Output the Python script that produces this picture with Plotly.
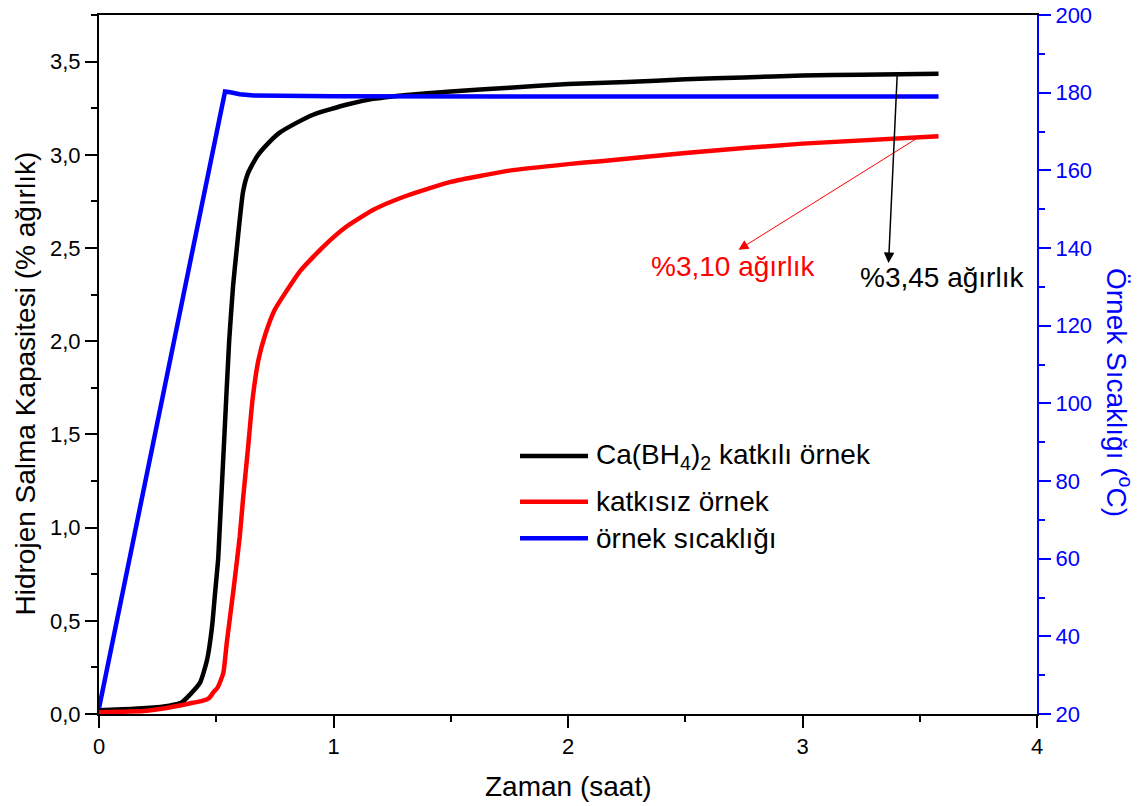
import plotly.graph_objects as go

# ---- data (time in hours) ----
t_doped = [0.00, 0.10, 0.20, 0.30, 0.35, 0.388, 0.431, 0.461, 0.482, 0.495, 0.508,
           0.515, 0.535, 0.555, 0.572, 0.587, 0.600, 0.614, 0.635, 0.673, 0.720,
           0.772, 0.840, 0.913, 1.058, 1.169, 1.30, 1.50, 1.75, 2.00, 2.25, 2.50,
           2.75, 3.00, 3.25, 3.58]
cap_doped = [0.020, 0.025, 0.032, 0.045, 0.060, 0.104, 0.168, 0.291, 0.468, 0.650, 0.830,
             1.00, 1.50, 2.00, 2.30, 2.49, 2.65, 2.80, 2.90, 2.99, 3.06,
             3.12, 3.17, 3.215, 3.27, 3.30, 3.32, 3.34, 3.36, 3.38, 3.39, 3.405,
             3.415, 3.425, 3.43, 3.435]

t_undoped = [0.00, 0.10, 0.19, 0.30, 0.40, 0.44, 0.47, 0.49, 0.505, 0.53, 0.545, 0.572,
             0.589, 0.600, 0.614, 0.635, 0.655, 0.680, 0.710, 0.750, 0.800, 0.860,
             0.957, 1.05, 1.17, 1.30, 1.50, 1.75, 2.00, 2.14, 2.50, 3.00, 3.58]
cap_undoped = [0.010, 0.012, 0.016, 0.035, 0.060, 0.070, 0.086, 0.120, 0.140, 0.220, 0.384, 0.651,
               0.830, 0.950, 1.150, 1.420, 1.690, 1.900, 2.040, 2.170, 2.270, 2.380,
               2.508, 2.610, 2.705, 2.775, 2.855, 2.915, 2.950, 2.966, 3.010, 3.060, 3.100]

t_temp = [0.00, 0.10, 0.20, 0.30, 0.40, 0.50, 0.5375, 0.56, 0.60, 0.66, 0.75, 1.00, 2.00, 3.00, 3.58]
temp = [21.5, 51.0, 80.5, 110.0, 139.5, 169.0, 180.3, 180.1, 179.6, 179.3, 179.2, 179.1, 179.0, 179.0, 179.0]

names = ["Ca(BH<sub>4</sub>)<sub>2</sub> katkılı örnek", "katkısız örnek", "örnek sıcaklığı"]
colors = ["#000000", "#ff0000", "#0000ff"]

FONT = "Arial, Liberation Sans, sans-serif"

fig = go.Figure()
fig.add_trace(go.Scatter(x=t_doped, y=cap_doped, mode="lines", name=names[0],
                         line=dict(color=colors[0], width=4.5, shape="spline", smoothing=0.5),
                         showlegend=False))
fig.add_trace(go.Scatter(x=t_undoped, y=cap_undoped, mode="lines", name=names[1],
                         line=dict(color=colors[1], width=4.5, shape="spline", smoothing=0.5),
                         showlegend=False))
fig.add_trace(go.Scatter(x=t_temp, y=temp, mode="lines", name=names[2], yaxis="y2",
                         line=dict(color=colors[2], width=4.5), showlegend=False))

W, H = 1145, 806
L, R, T, B = 99, 108, 15, 92
pw, ph = W - L - R, H - T - B

def px2paper(px, py):
    return (px - L) / pw, (H - B - py) / ph

fig.update_layout(
    width=W, height=H,
    margin=dict(l=L, r=R, t=T, b=B, autoexpand=False),
    paper_bgcolor="white", plot_bgcolor="white",
    separators=",.",
    font=dict(family=FONT, size=22, color="black"),
    xaxis=dict(range=[0, 4], dtick=1, tickformat="d", showgrid=False, zeroline=False,
               automargin=False,
               showline=True, linecolor="black", linewidth=2, mirror=True,
               ticks="outside", ticklen=12, tickwidth=2, tickcolor="black",
               minor=dict(dtick=0.5, ticks="outside", ticklen=6, tickwidth=2, tickcolor="black"),
               tickfont=dict(size=22, color="black")),
    yaxis=dict(range=[0, 3.75], dtick=0.5, tickformat=".1f", showgrid=False, zeroline=False,
               automargin=False,
               showline=True, linecolor="black", linewidth=2,
               ticks="outside", ticklen=12, tickwidth=2, tickcolor="black",
               minor=dict(dtick=0.25, ticks="outside", ticklen=6, tickwidth=2, tickcolor="black"),
               tickfont=dict(size=22, color="black")),
    yaxis2=dict(range=[20, 200], dtick=20, overlaying="y", side="right", anchor="x",
                automargin=False,
                showgrid=False, zeroline=False, showline=True, linecolor="#0000ff", linewidth=2,
                ticks="outside", ticklen=12, tickwidth=2, tickcolor="#0000ff",
                minor=dict(dtick=10, ticks="outside", ticklen=6, tickwidth=2, tickcolor="#0000ff"),
                tickfont=dict(size=22, color="#0000ff")),
)

ann = []
# axis titles
x0, y0 = px2paper(568, 786)
ann.append(dict(text="Zaman (saat)", x=0.5, y=y0, xref="paper", yref="paper",
                xanchor="center", yanchor="middle", showarrow=False,
                font=dict(size=28, color="black")))
x0, y0 = px2paper(25, 383.5)
ann.append(dict(text="Hidrojen Salma Kapasitesi (% ağırlık)", x=x0, y=y0, xref="paper", yref="paper",
                xanchor="center", yanchor="middle", textangle=-90, showarrow=False,
                font=dict(size=28, color="black")))
x0, y0 = px2paper(1119, 392)
ann.append(dict(text="Örnek Sıcaklığı (<sup>o</sup>C)", x=x0, y=y0, xref="paper", yref="paper",
                xanchor="center", yanchor="middle", textangle=90, showarrow=False,
                font=dict(size=28, color="#0000ff")))

# manual legend
leg_y = [456, 501.7, 538.3]
shapes = []
for nm, c, yy in zip(names, colors, leg_y):
    xa, ya = px2paper(520, yy)
    xb, _ = px2paper(588, yy)
    shapes.append(dict(type="line", xref="paper", yref="paper", x0=xa, x1=xb, y0=ya, y1=ya,
                       line=dict(color=c, width=4.5)))
    xt, _ = px2paper(594, yy)
    ann.append(dict(text=nm, x=xt, y=ya, xref="paper", yref="paper", xanchor="left",
                    yanchor="middle", showarrow=False, font=dict(size=28, color="black")))

# value labels with arrows
ann.append(dict(text="", x=2.727, y=2.490, ax=3.489, ay=3.089, xref="x", yref="y",
                axref="x", ayref="y", showarrow=True, arrowhead=2, arrowsize=2,
                arrowwidth=1, arrowcolor="#ff0000", standoff=0, startstandoff=0))
ann.append(dict(text="", x=3.367, y=2.419, ax=3.404, ay=3.434, xref="x", yref="y",
                axref="x", ayref="y", showarrow=True, arrowhead=2, arrowsize=1.4,
                arrowwidth=1.5, arrowcolor="#000000", standoff=0, startstandoff=0))
ann.append(dict(text="%3,10 ağırlık", x=2.705, y=2.399, xref="x", yref="y",
                xanchor="center", yanchor="middle", showarrow=False,
                font=dict(size=28, color="#ff0000")))
ann.append(dict(text="%3,45 ağırlık", x=3.595, y=2.340, xref="x", yref="y",
                xanchor="center", yanchor="middle", showarrow=False,
                font=dict(size=28, color="#000000")))

fig.update_layout(annotations=ann, shapes=shapes)
fig.write_html("out.html")
